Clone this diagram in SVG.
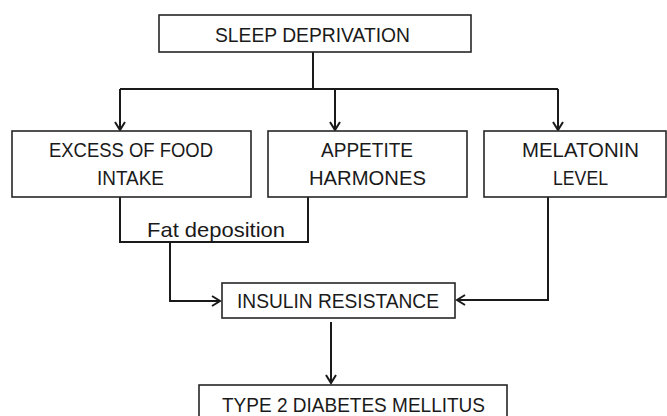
<svg xmlns="http://www.w3.org/2000/svg" width="667" height="416" viewBox="0 0 667 416">
<style>
.box{fill:#fff;stroke:#262626;stroke-width:1.6}
.t{font-family:"Liberation Sans",Arial,sans-serif;font-size:21px;fill:#1a1a1a;text-anchor:middle}
.c{fill:none;stroke:#1a1a1a;stroke-width:2}
.a{marker-end:url(#arr)}
</style>
<defs>
<marker id="arr" markerUnits="userSpaceOnUse" markerWidth="14" markerHeight="14" viewBox="-10 -7 12 14" refX="0" refY="0" orient="auto">
<path d="M-8,-5 L0,0 L-8,5" fill="none" stroke="#1a1a1a" stroke-width="2"/>
</marker>
</defs>
<rect width="667" height="416" fill="#fff"/>
<g id="connectors">
<path class="c" d="M313 52 V89 M120 89 H558"/>
<path class="c a" d="M120 89 V130"/>
<path class="c a" d="M335 89 V130"/>
<path class="c a" d="M558 89 V130"/>
<path class="c" d="M120 197 V242 H308 V197"/>
<path class="c a" d="M170 242 V301 H220"/>
<path class="c a" d="M548 197 V300 H457"/>
<path class="c a" d="M331 322 V383"/>
</g>
<g id="sleep">
<rect class="box" x="159" y="15" width="312" height="37"/>
<text class="t" x="312.5" y="42" textLength="195" lengthAdjust="spacingAndGlyphs">SLEEP DEPRIVATION</text>
</g>
<g id="food">
<rect class="box" x="12" y="131" width="239" height="66"/>
<text class="t" x="131" y="157" textLength="164" lengthAdjust="spacingAndGlyphs">EXCESS OF FOOD</text>
<text class="t" x="130.5" y="185" textLength="67" lengthAdjust="spacingAndGlyphs">INTAKE</text>
</g>
<g id="appetite">
<rect class="box" x="268" y="131" width="199" height="66"/>
<text class="t" x="367" y="157" textLength="92" lengthAdjust="spacingAndGlyphs">APPETITE</text>
<text class="t" x="367.5" y="185" textLength="117" lengthAdjust="spacingAndGlyphs">HARMONES</text>
</g>
<g id="melatonin">
<rect class="box" x="484" y="131" width="182" height="66"/>
<text class="t" x="580.5" y="157" textLength="117" lengthAdjust="spacingAndGlyphs">MELATONIN</text>
<text class="t" x="580.5" y="185" textLength="55" lengthAdjust="spacingAndGlyphs">LEVEL</text>
</g>
<g id="fat">
<text class="t" x="216" y="237" textLength="138" lengthAdjust="spacingAndGlyphs">Fat deposition</text>
</g>
<g id="insulin">
<rect class="box" x="222" y="283" width="233" height="35"/>
<text class="t" x="338" y="308" textLength="202" lengthAdjust="spacingAndGlyphs">INSULIN RESISTANCE</text>
</g>
<g id="t2dm">
<rect class="box" x="199" y="385" width="308" height="40"/>
<text class="t" x="353.5" y="412" textLength="263" lengthAdjust="spacingAndGlyphs">TYPE 2 DIABETES MELLITUS</text>
</g>
</svg>
